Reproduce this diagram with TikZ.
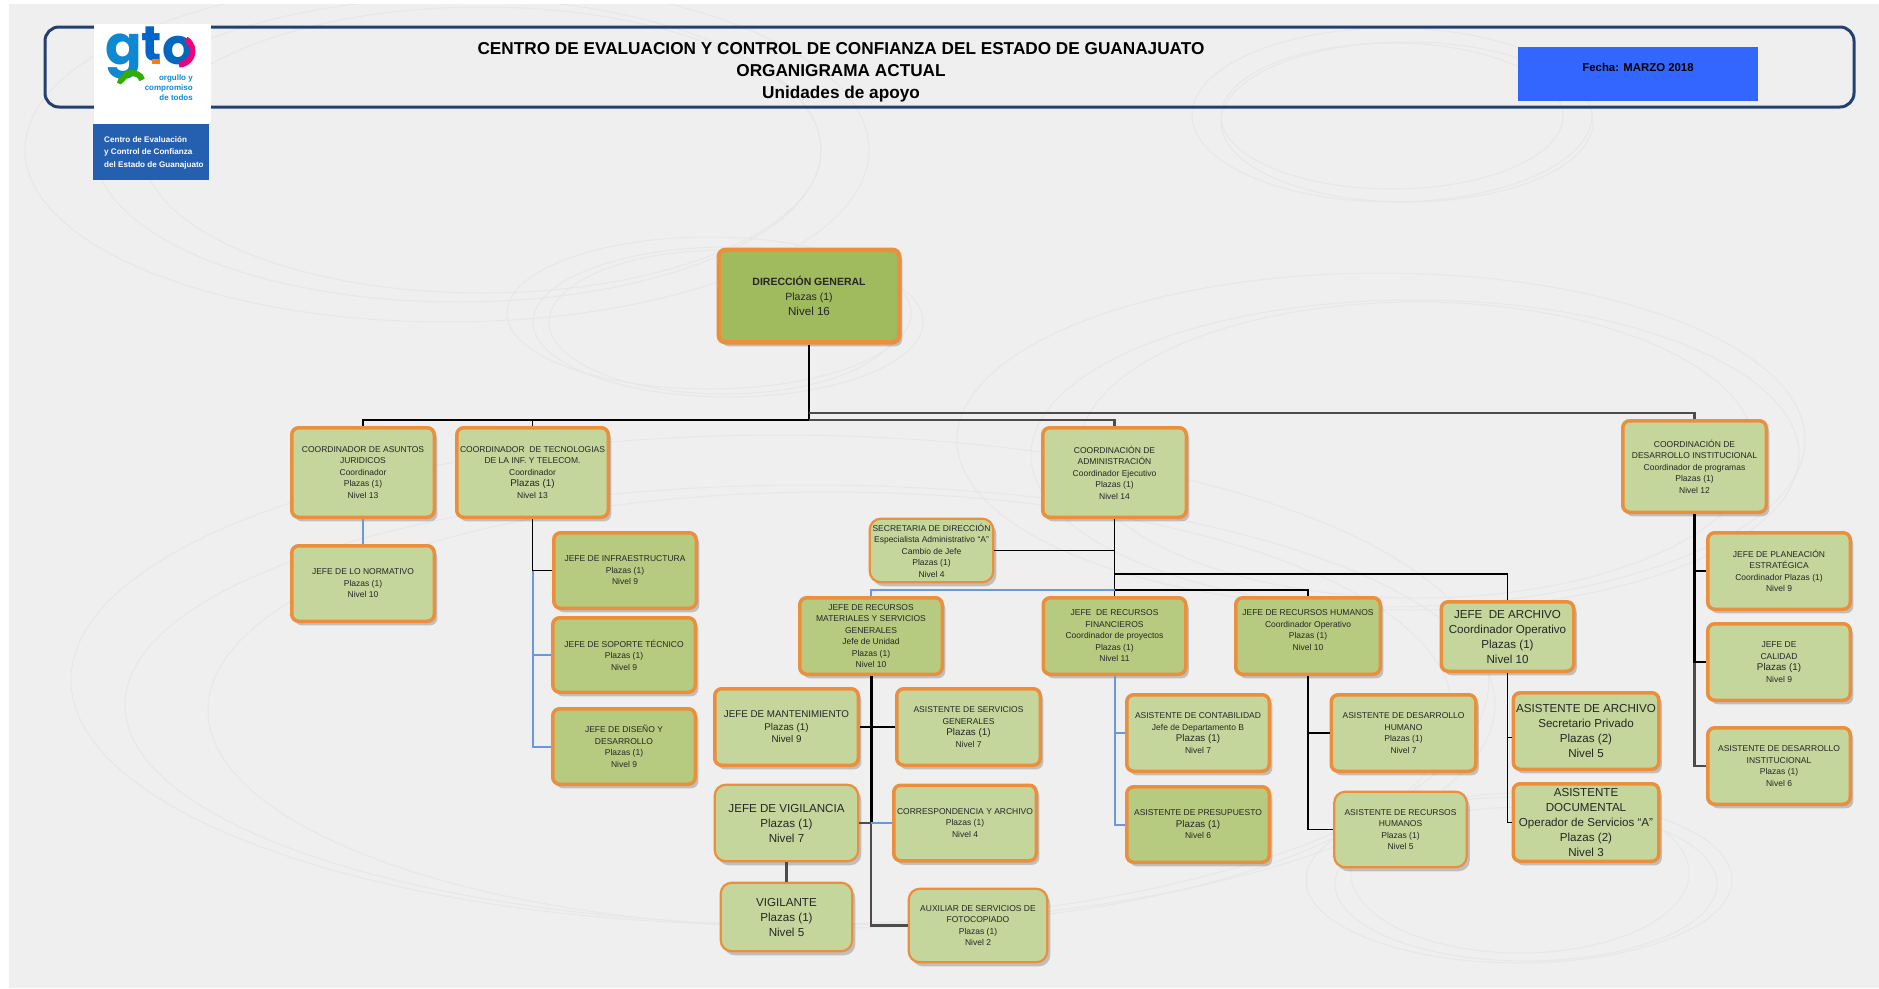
\documentclass[tikz,border=0pt]{standalone}
\usepackage{fontspec}
\setmainfont{Liberation Sans}
\newfontfamily\logofont{Poppins}
\usetikzlibrary{shadows}

\definecolor{fondo}{HTML}{EFEFEF}
\definecolor{circulo}{HTML}{E7E7E7}
\definecolor{marino}{HTML}{24406E}
\definecolor{naranja}{HTML}{EC8F3C}
\definecolor{verdeuno}{HTML}{C4D69C}
\definecolor{verdedos}{HTML}{B6CB80}
\definecolor{verdetres}{HTML}{A0BB5E}
\definecolor{azullinea}{HTML}{6A98E0}
\definecolor{azulfecha}{HTML}{3366FF}
\definecolor{azullogo}{HTML}{2560B0}
\definecolor{tinta}{HTML}{262626}

\newcommand{\tchica}{\fontsize{8.5}{11.5}\selectfont}
\newcommand{\tmedia}{\fontsize{9.8}{12.5}\selectfont}
\newcommand{\tgrande}{\fontsize{11.6}{15}\selectfont}

\tikzset{
  caja/.style={rectangle, draw=naranja, line width=3.5, fill=verdeuno, rounded corners=7,
    inner sep=0, align=center, text=tinta, font=\tchica,
    drop shadow={shadow xshift=3pt, shadow yshift=-4pt, fill=black, opacity=.2}},
  oscura/.style={caja, fill=verdedos},
  fina/.style={caja, line width=2.2, rounded corners=11},
  tam/.style 2 args={minimum width=#1-3.5, minimum height=#2-3.5},
  linea/.style={draw=black, line width=1.8},
  lineaazul/.style={draw=azullinea, line width=2},
  lineagris/.style={draw=black!70, line width=2.2},
  elipse/.style={draw=circulo, line width=1},
  titulo/.style={font=\fontsize{17.2}{18}\selectfont\bfseries, text=black}
}

\begin{document}
\begin{tikzpicture}[x=1pt, y=-1pt]
  \useasboundingbox (0,0) rectangle (1879,988);
  \fill[white] (0,0) rectangle (1879,988);
  \fill[fondo] (9,4) rectangle (1879,988);

  \begin{scope}
    \clip (9,4) rectangle (1879,988);
    \draw[elipse] (447,150) ellipse [x radius=422, y radius=172];
    \draw[elipse] (458,150) ellipse [x radius=363, y radius=152];
    \draw[elipse] (482,150) ellipse [x radius=339, y radius=143];
    \draw[elipse] (709,313) ellipse [x radius=202, y radius=76];
    \draw[elipse] (728,322) ellipse [x radius=195, y radius=75];
    \draw[elipse] (724,322) ellipse [x radius=175, y radius=72];
    \draw[elipse] (1392,115) ellipse [x radius=200, y radius=87];
    \draw[elipse] (1392,116) ellipse [x radius=171, y radius=73];
    \draw[elipse] (1407,122) ellipse [x radius=186, y radius=80];
    \draw[elipse] (1381,440) ellipse [x radius=424, y radius=167];
    \draw[elipse] (1415,455) ellipse [x radius=384, y radius=155];
    \draw[elipse] (1417,450) ellipse [x radius=338, y radius=148];
    \draw[elipse] (780,680) ellipse [x radius=709, y radius=245];
    \draw[elipse] (810,705) ellipse [x radius=685, y radius=220];
    \draw[elipse] (830,710) ellipse [x radius=622, y radius=218];
    \draw[elipse] (1519,880) ellipse [x radius=213, y radius=83];
    \draw[elipse] (1526,884) ellipse [x radius=191, y radius=77];
    \draw[elipse] (1520,873) ellipse [x radius=169, y radius=80];
  \end{scope}

  \draw[marino, line width=3, rounded corners=14] (45,27) rectangle (1854,107);

  \node[fill=white, minimum width=117, minimum height=100, inner sep=0] (logoGto) at (152,74) {};
  \node[text=cyan!70!blue, font=\fontsize{54}{54}\logofont\bfseries, inner sep=0] (letraG) at (124,57) {g};
  \node[text=blue!50!cyan!80!black, font=\fontsize{50}{50}\logofont\bfseries, inner sep=0] (letraT) at (152,44) {t};
  \node[text=blue!45!cyan!75!black, font=\fontsize{50}{50}\logofont\bfseries, inner sep=0] (letraO) at (178.5,51) {o};
  \draw[magenta!85!red, line width=6] (185.75,39.3) arc [start angle=-60, end angle=90, radius=13.5];
  \draw[orange, line width=5] (152,61) -- (160,61);
  \draw[green!60!black!80!yellow, line width=6] (118,80) to [out=-60, in=180] (130,73) to [out=0, in=100] (142,80);
  \node[text=cyan!70!blue, font=\fontsize{8}{10}\selectfont\bfseries, align=right, inner sep=0, anchor=east] (lemaLogo) at (193,88) {orgullo y\\compromiso\\de todos};
  \node[fill=azullogo, minimum width=116, minimum height=56, inner sep=0] (logoAzul) at (151,152) {};
  \node[text=white, font=\fontsize{8.1}{12.5}\selectfont\bfseries, align=left, inner sep=0, anchor=west] (logoTexto) at (104,152.5) {Centro de Evaluación\\y Control de Confianza\\del Estado de Guanajuato};

  \node[titulo] (tituloUno) at (841,49) {CENTRO DE EVALUACION Y CONTROL DE CONFIANZA DEL ESTADO DE GUANAJUATO};
  \node[titulo] (tituloDos) at (841,71) {ORGANIGRAMA ACTUAL};
  \node[titulo] (tituloTres) at (841,94) {Unidades de apoyo};

  \node[fill=azulfecha, minimum width=240, minimum height=54, inner sep=0, align=center, font=\fontsize{11.4}{14}\selectfont\bfseries] (fecha) at (1638,74) {Fecha: MARZO 2018\\\mbox{}};

  \node[caja, fill=verdetres, line width=4.5, tam={184}{96}, font=\tgrande] (dirGen) at (809,296) {\fontsize{10.5}{15}\selectfont\bfseries DIRECCIÓN GENERAL\\\fontsize{10.5}{13}\selectfont Plazas (1)\\Nivel 16};

  \node[caja, tam={146}{93}] (coordJur) at (363,472.5) {COORDINADOR DE ASUNTOS\\JURIDICOS\\Coordinador\\Plazas (1)\\Nivel 13};
  \node[caja, tam={155}{93}] (coordTec) at (532.5,472.5) {COORDINADOR\ \ DE TECNOLOGIAS\\DE LA INF. Y TELECOM.\\Coordinador\\\tmedia Plazas (1)\\\tchica Nivel 13};
  \node[caja, tam={147}{93}] (coordAdm) at (1114.5,472.5) {COORDINACIÓN DE\\ADMINISTRACIÓN\\Coordinador Ejecutivo\\Plazas (1)\\Nivel 14};
  \node[caja, tam={147}{95}] (coordDes) at (1694.5,466.5) {COORDINACIÓN DE\\DESARROLLO INSTITUCIONAL\\Coordinador de programas\\Plazas (1)\\Nivel 12};

  \node[caja, tam={146}{79}] (jefeNorm) at (363,583.5) {JEFE DE LO NORMATIVO\\Plazas (1)\\Nivel 10};
  \node[oscura, tam={146}{79}] (jefeInfra) at (625,570.5) {JEFE DE INFRAESTRUCTURA\\Plazas (1)\\Nivel 9};
  \node[oscura, tam={146}{78}] (jefeSop) at (624,655) {JEFE DE SOPORTE TÉCNICO\\Plazas (1)\\Nivel 9};
  \node[oscura, tam={146}{79}] (jefeDis) at (624,746.5) {JEFE DE DISEÑO Y\\DESARROLLO\\Plazas (1)\\Nivel 9};

  \node[fina, tam={127}{67}] (secDir) at (931.5,550.5) {SECRETARIA DE DIRECCIÓN\\Especialista Administrativo “A”\\Cambio de Jefe\\Plazas (1)\\Nivel 4};
  \node[oscura, tam={146}{80}] (jefeMat) at (871,636) {JEFE DE RECURSOS\\MATERIALES Y SERVICIOS\\GENERALES\\Jefe de Unidad\\Plazas (1)\\Nivel 10};
  \node[oscura, tam={146}{80}] (jefeFin) at (1114.5,636) {JEFE\ \ DE RECURSOS\\FINANCIEROS\\Coordinador de proyectos\\Plazas (1)\\Nivel 11};
  \node[oscura, tam={148}{80}] (jefeRH) at (1308,636) {JEFE DE RECURSOS HUMANOS\\Coordinador Operativo\\Plazas (1)\\Nivel 10\\\mbox{}};
  \node[caja, tam={136}{73}, font=\tgrande] (jefeArch) at (1507.5,636.5) {JEFE\ \ DE ARCHIVO\\Coordinador Operativo\\Plazas (1)\\Nivel 10};

  \node[caja, tam={147}{80}, font=\tmedia] (jefeMant) at (786.5,727) {JEFE DE MANTENIMIENTO\\Plazas (1)\\Nivel 9};
  \node[caja, tam={147}{80}] (asisServ) at (968.5,727) {ASISTENTE DE SERVICIOS\\GENERALES\\\tmedia Plazas (1)\\\tchica Nivel 7};
  \node[fina, tam={147}{80}, font=\tgrande] (jefeVig) at (786.5,823) {JEFE DE VIGILANCIA\\Plazas (1)\\Nivel 7};
  \node[caja, tam={146}{79}] (corresp) at (965,823) {CORRESPONDENCIA Y ARCHIVO\\Plazas (1)\\Nivel 4};
  \node[fina, tam={135}{72}, font=\tgrande] (vigilante) at (786.5,917) {VIGILANTE\\Plazas (1)\\Nivel 5};
  \node[fina, tam={142}{77}] (auxFoto) at (978,925.5) {AUXILIAR DE SERVICIOS DE\\FOTOCOPIADO\\Plazas (1)\\Nivel 2};

  \node[caja, tam={146}{80}] (asisCont) at (1198,733) {ASISTENTE DE CONTABILIDAD\\Jefe de Departamento B\\\tmedia Plazas (1)\\\tchica Nivel 7};
  \node[oscura, tam={146}{79}] (asisPres) at (1198,824.5) {ASISTENTE DE PRESUPUESTO\\\tmedia Plazas (1)\\\tchica Nivel 6};
  \node[caja, tam={148}{80}] (asisDesH) at (1403.5,733) {ASISTENTE DE DESARROLLO\\HUMANO\\Plazas (1)\\Nivel 7};
  \node[fina, tam={136}{79}] (asisRH) at (1400.5,829.5) {ASISTENTE DE RECURSOS\\HUMANOS\\Plazas (1)\\Nivel 5};
  \node[caja, tam={149}{80}, font=\tgrande] (asisArch) at (1586,731) {ASISTENTE DE ARCHIVO\\Secretario Privado\\Plazas (2)\\Nivel 5};
  \node[caja, tam={149}{81}, font=\tgrande] (asisDoc) at (1586,822.5) {ASISTENTE\\DOCUMENTAL\\Operador de Servicios “A”\\Plazas (2)\\Nivel 3};

  \node[caja, tam={146}{80}] (jefePlan) at (1779,571) {JEFE DE PLANEACIÓN\\ESTRATÉGICA\\Coordinador Plazas (1)\\Nivel 9};
  \node[caja, tam={146}{80}] (jefeCal) at (1779,662) {JEFE DE\\CALIDAD\\\tmedia Plazas (1)\\\tchica Nivel 9};
  \node[caja, tam={146}{80}] (asisInst) at (1779,766) {ASISTENTE DE DESARROLLO\\INSTITUCIONAL\\Plazas (1)\\Nivel 6};

  \coordinate (barraA) at (809,420);
  \coordinate (barraB) at (809,413);
  \coordinate (barraC) at (1114.5,574);
  \coordinate (barraD) at (1114.5,590);

  \draw[linea, line width=2.4] (dirGen.south) -- (barraA);
  \draw[linea] (barraA) -| (coordJur.north);
  \draw[linea] (coordTec.north) |- (barraA);
  \draw[lineagris] (barraA) -| (coordAdm.north);
  \draw[lineagris] (barraB) -| (coordDes.north);

  \draw[lineaazul] (coordJur.south) -- (jefeNorm.north);
  \draw[lineaazul] (coordTec.south |- jefeInfra.west) |- (jefeSop.west);
  \draw[lineaazul] (coordTec.south |- jefeSop.west) |- (jefeDis.west);
  \draw[linea] (coordTec.south) |- (jefeInfra.west);

  \draw[linea] (coordAdm.south) -- (jefeFin.north);
  \draw[linea] (secDir.east) -- (coordAdm.south |- secDir.east);
  \draw[linea] (barraC) -| (jefeArch.north);
  \draw[linea] (barraD) -| (jefeRH.north);
  \draw[lineaazul] (barraD) -| (jefeMat.north);

  \draw[lineagris] (jefeMat.south |- corresp.west) |- (auxFoto.west);
  \draw[linea, line width=3] (jefeMat.south) -- (jefeMat.south |- corresp.west);
  \draw[linea] (jefeMant.east) -- (asisServ.west);
  \draw[lineagris] (jefeVig.east) -- (jefeMat.south |- jefeVig.east);
  \draw[lineaazul] (jefeMat.south |- corresp.west) -- (corresp.west);
  \draw[lineagris, line width=2.6] (jefeVig.south) -- (vigilante.north);

  \draw[lineaazul] (jefeFin.south) |- (asisCont.west);
  \draw[lineaazul] (jefeFin.south |- asisCont.west) |- (asisPres.west);

  \draw[linea] (jefeRH.south) |- (asisDesH.west);
  \draw[linea] (jefeRH.south |- asisDesH.west) |- (asisRH.west);

  \draw[linea] (jefeArch.south) |- (asisArch.185);
  \draw[linea] (jefeArch.south |- asisArch.185) |- (asisDoc.west);

  \draw[lineagris] (coordDes.south |- jefeCal.west) |- (asisInst.west);
  \draw[linea, line width=2.4] (coordDes.south) |- (jefePlan.west);
  \draw[linea, line width=2.4] (coordDes.south |- jefePlan.west) |- (jefeCal.west);
\end{tikzpicture}
\end{document}
